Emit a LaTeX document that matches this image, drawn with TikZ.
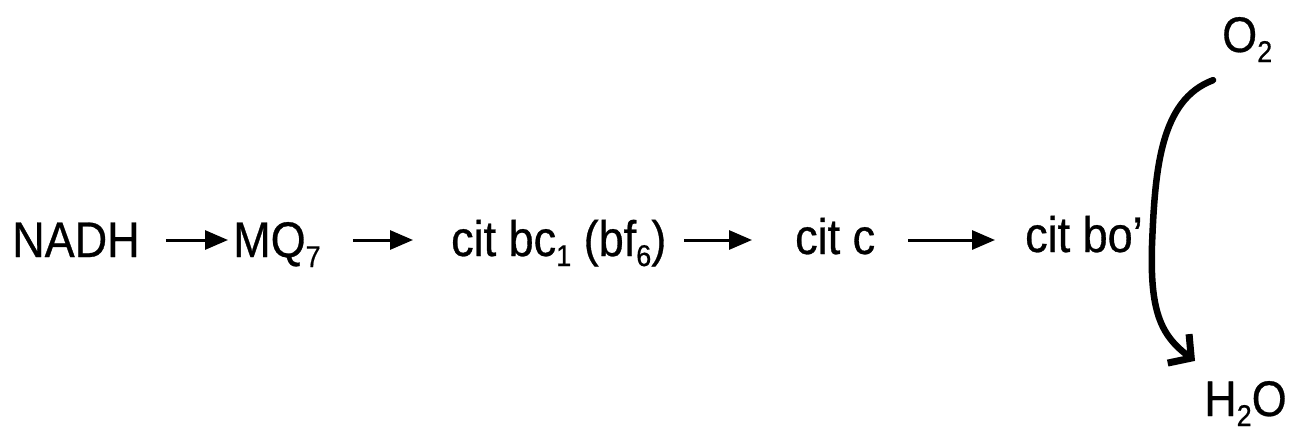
\documentclass[tikz,border=0pt]{standalone}
\usepackage{fontspec}
\setmainfont{Liberation Sans}[FakeStretch=0.9,FakeBold=0.6]
\usetikzlibrary{arrows.meta,calc}
\newcommand{\chemsub}[1]{\raisebox{-0.2em}{\fontsize{30}{30}\selectfont #1}}
\begin{document}
\begin{tikzpicture}[x=1pt,y=-1pt,
  lbl/.style={inner sep=0pt,anchor=base west,font=\fontsize{50}{50}\selectfont},
  arr/.style={line width=3pt,-{Triangle[length=23pt,width=19pt]}},
  curvearr/.style={line width=6.5pt,line cap=round,-{Straight Barb[length=16pt,width=36pt,line width=7pt]}}]
\useasboundingbox (0,0) rectangle (1300,434);
\coordinate (axis) at (0,240);
\node[lbl] (nadh) at (12,257) {NADH};
\node[lbl] (mq) at (233,257) {MQ\chemsub{7}};
\node[lbl] (bc) at (451,256) {cit bc\chemsub{1} (bf\chemsub{6})};
\node[lbl] (cc) at (795,254) {cit c};
\node[lbl] (bo) at (1025,252) {cit bo’};
\node[lbl] (o2) at (1222,52) {O\chemsub{2}};
\node[lbl] (h2o) at (1204,416) {H\chemsub{2}O};
\draw[arr,shorten <=26pt,shorten >=5pt] (nadh.east |- axis) -- (mq.west |- axis);
\draw[arr,shorten <=32pt,shorten >=38pt] (mq.east |- axis) -- (bc.west |- axis);
\draw[arr,shorten <=18pt,shorten >=43pt] (bc.east |- axis) -- (cc.west |- axis);
\draw[arr,shorten <=33pt,shorten >=30pt] (cc.east |- axis) -- (bo.west |- axis);
\coordinate (cs) at ($(o2.south west)+(-9,18)$);
\coordinate (ce) at ($(h2o.north west)+(-9,-20)$);
\draw[curvearr] (cs) .. controls (1160,100) and (1155,170) .. (1152,245)
  .. controls (1150,310) and (1160,335) .. (ce);
\end{tikzpicture}
\end{document}
